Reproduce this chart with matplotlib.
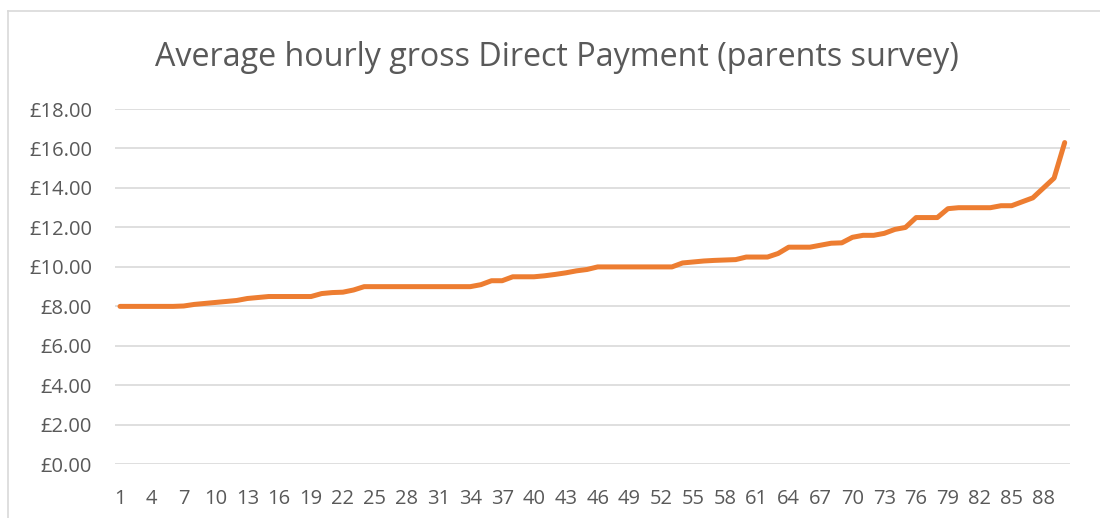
import matplotlib
matplotlib.use("Agg")
import matplotlib.pyplot as plt
from matplotlib.lines import Line2D
from matplotlib.ticker import FuncFormatter, MultipleLocator

# respondents sorted by average hourly gross Direct Payment (GBP)
respondent = list(range(1, 91))
hourly_rate = [
    8.00, 8.00, 8.00, 8.00, 8.00, 8.00, 8.02, 8.10, 8.15, 8.20,
    8.25, 8.30, 8.40, 8.45, 8.50, 8.50, 8.50, 8.50, 8.50, 8.65,
    8.70, 8.72, 8.83, 9.00, 9.00, 9.00, 9.00, 9.00, 9.00, 9.00,
    9.00, 9.00, 9.00, 9.00, 9.10, 9.30, 9.30, 9.50, 9.50, 9.50,
    9.55, 9.62, 9.70, 9.80, 9.87, 10.00, 10.00, 10.00, 10.00, 10.00,
    10.00, 10.00, 10.00, 10.20, 10.25, 10.30, 10.33, 10.35, 10.37, 10.50,
    10.50, 10.50, 10.68, 11.00, 11.00, 11.00, 11.10, 11.20, 11.22, 11.50,
    11.60, 11.60, 11.70, 11.90, 12.00, 12.50, 12.50, 12.50, 12.95, 13.00,
    13.00, 13.00, 13.00, 13.10, 13.10, 13.30, 13.50, 14.00, 14.50, 16.30,
]
x_tick_labels = list(range(1, 91, 3))

TITLE = "Average hourly gross Direct Payment (parents survey)"
TEXT_GREY = "#595959"
GRID_GREY = "#d9d9d9"
ORANGE = "#ED7D31"

plt.rcParams["font.family"] = ["Open Sans", "DejaVu Sans"]

W, H = 1100, 518
fig = plt.figure(figsize=(W / 100, H / 100), dpi=100)
ax = fig.add_axes([114.7 / W, 1 - 464.3 / H, (1070 - 114.7) / W, (464.3 - 109) / H])

ax.plot(respondent, hourly_rate, color=ORANGE, lw=3.6,
        solid_capstyle="round", solid_joinstyle="round", zorder=3)

ax.set_xlim(0.5, 90.5)
ax.set_ylim(0, 18)
ax.yaxis.set_major_locator(MultipleLocator(2))
ax.yaxis.set_major_formatter(FuncFormatter(lambda v, _: f"£{v:.2f}"))
ax.set_xticks(x_tick_labels)
ax.set_xticklabels([str(t) for t in x_tick_labels])

ax.grid(axis="y", color=GRID_GREY, lw=1.2)
ax.set_axisbelow(True)
for s in ax.spines.values():
    s.set_visible(False)
ax.tick_params(axis="both", length=0, colors=TEXT_GREY, labelsize=14.5)
ax.tick_params(axis="y", pad=16.3)
ax.tick_params(axis="x", pad=17.5)

fig.text(557 / W, 1 - 57 / H, TITLE, ha="center", va="center",
         fontsize=23.2, color=TEXT_GREY)

# chart-area border (only left and top edges are inside the crop)
fig.add_artist(Line2D([8 / W, 8 / W], [0, 1 - 10.7 / H], transform=fig.transFigure,
                      color=GRID_GREY, lw=1.2))
fig.add_artist(Line2D([8 / W, 1], [1 - 10.7 / H, 1 - 10.7 / H], transform=fig.transFigure,
                      color=GRID_GREY, lw=1.2))

fig.savefig("out.png", dpi=100)
